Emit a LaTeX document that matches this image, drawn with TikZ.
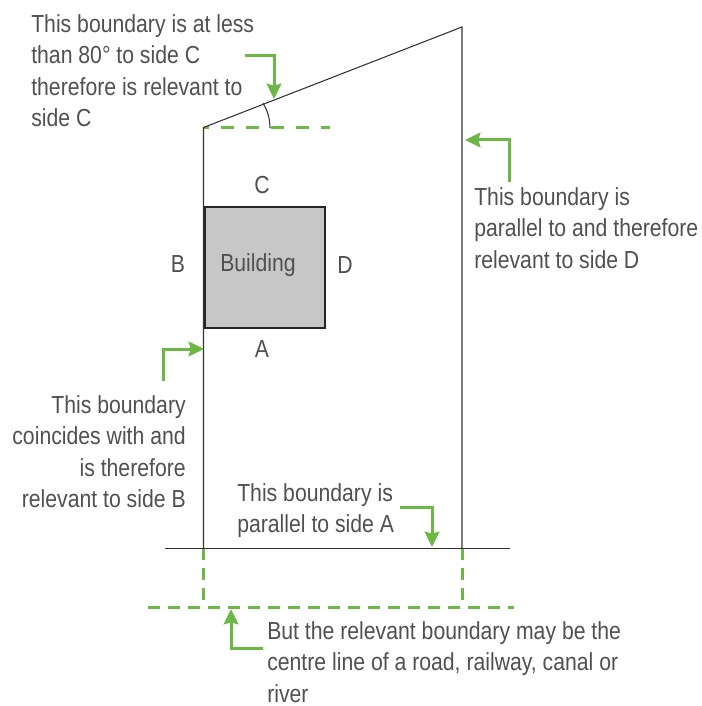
\documentclass[tikz,border=0pt]{standalone}
\usepackage{fontspec}
\setmainfont[FakeStretch=0.86]{Liberation Sans}
\usetikzlibrary{arrows.meta}
\definecolor{gr}{RGB}{108,184,70}
\definecolor{tx}{RGB}{80,80,82}
\tikzset{x=0.75pt,y=-0.75pt,
 bound/.style={draw=black!80,line width=0.8pt},
 callout/.style={draw=gr,line width=2.25pt,-{Stealth[length=11.5pt,width=11pt,inset=1.5pt]}},
 cdash/.style={draw=gr,line width=2.25pt,dash pattern=on 9.75pt off 9pt},
 cdashb/.style={draw=gr,line width=2.25pt,dash pattern=on 9pt off 6pt},
 lbl/.style={text=tx,font=\fontsize{18.5pt}{23.7pt}\selectfont,inner sep=0pt,align=left},
 lblr/.style={lbl,align=right},
 side/.style={text=tx,font=\fontsize{18.5pt}{18pt}\selectfont,inner sep=0pt}}
\begin{document}
\begin{tikzpicture}
\useasboundingbox (0,0) rectangle (701,706);
\coordinate (tl) at (203.5,127.5);
\coordinate (tr) at (462,27);
\coordinate (bl) at (203.5,548.4);
\coordinate (br) at (462,548.4);
\coordinate (dr) at (330,127.5);
\draw[cdash,dash phase=6pt] (tl) -- (dr);
\coordinate (bd1) at (203.5,548); \coordinate (bd2) at (203.5,608);
\coordinate (bd3) at (462,548); \coordinate (bd4) at (462,608);
\draw[cdashb] (bd1) -- (bd2);
\draw[cdashb] (bd3) -- (bd4);
\coordinate (cl) at (148,607.5); \coordinate (cr) at (514,607.5);
\draw[cdashb] (cl) -- (cr);
\draw[bound] (bl) -- (tl) -- (tr) -- (br);
\coordinate (gl) at (165,548.4); \coordinate (gr2) at (510,548.4);
\draw[bound] (gl) -- (gr2);
\node[draw=black!85,fill=black!22,line width=1.5pt,minimum width=90pt,minimum height=90.5pt,inner sep=0pt] (bld) at (265,267.5) {};
\node[side] (btxt) at (258,265.5) {Building};
\node[side] (c) at (262,185) {C};
\node[side] (b) at (178,264) {B};
\node[side] (d) at (345,265) {D};
\node[side] (a) at (262,349) {A};
\coordinate (a1) at (270,128);
\coordinate (a2) at (263,103);
\draw[black!80,line width=0.8pt] (a1) to[bend right=14] (a2);
\node[lbl,anchor=north west] (t1) at (31,14) {This boundary is at less\\than 80° to side C\\therefore is relevant to\\side C};
\coordinate (c1a) at (245,56); \coordinate (c1b) at (274,56); \coordinate (c1c) at (274,99);
\draw[callout] (c1a) -- (c1b) -- (c1c);
\node[lbl,anchor=north west] (t2) at (474,187) {This boundary is\\parallel to and therefore\\relevant to side D};
\coordinate (c2a) at (509,182); \coordinate (c2b) at (509,140); \coordinate (c2c) at (465,140);
\draw[callout] (c2a) -- (c2b) -- (c2c);
\node[lblr,anchor=north east] (t3) at (186,395) {This boundary\\coincides with and\\is therefore\\relevant to side B};
\coordinate (c3a) at (163,381); \coordinate (c3b) at (163,349); \coordinate (c3c) at (204,349);
\draw[callout] (c3a) -- (c3b) -- (c3c);
\node[lbl,anchor=north west] (t4) at (237,483) {This boundary is\\parallel to side A};
\coordinate (c4a) at (400,507); \coordinate (c4b) at (432,507); \coordinate (c4c) at (432,547);
\draw[callout] (c4a) -- (c4b) -- (c4c);
\node[lbl,anchor=north west] (t5) at (267,621) {But the relevant boundary may be the\\centre line of a road, railway, canal or\\river};
\coordinate (c5a) at (263,648); \coordinate (c5b) at (231,648); \coordinate (c5c) at (231,609);
\draw[callout] (c5a) -- (c5b) -- (c5c);
\end{tikzpicture}
\end{document}
